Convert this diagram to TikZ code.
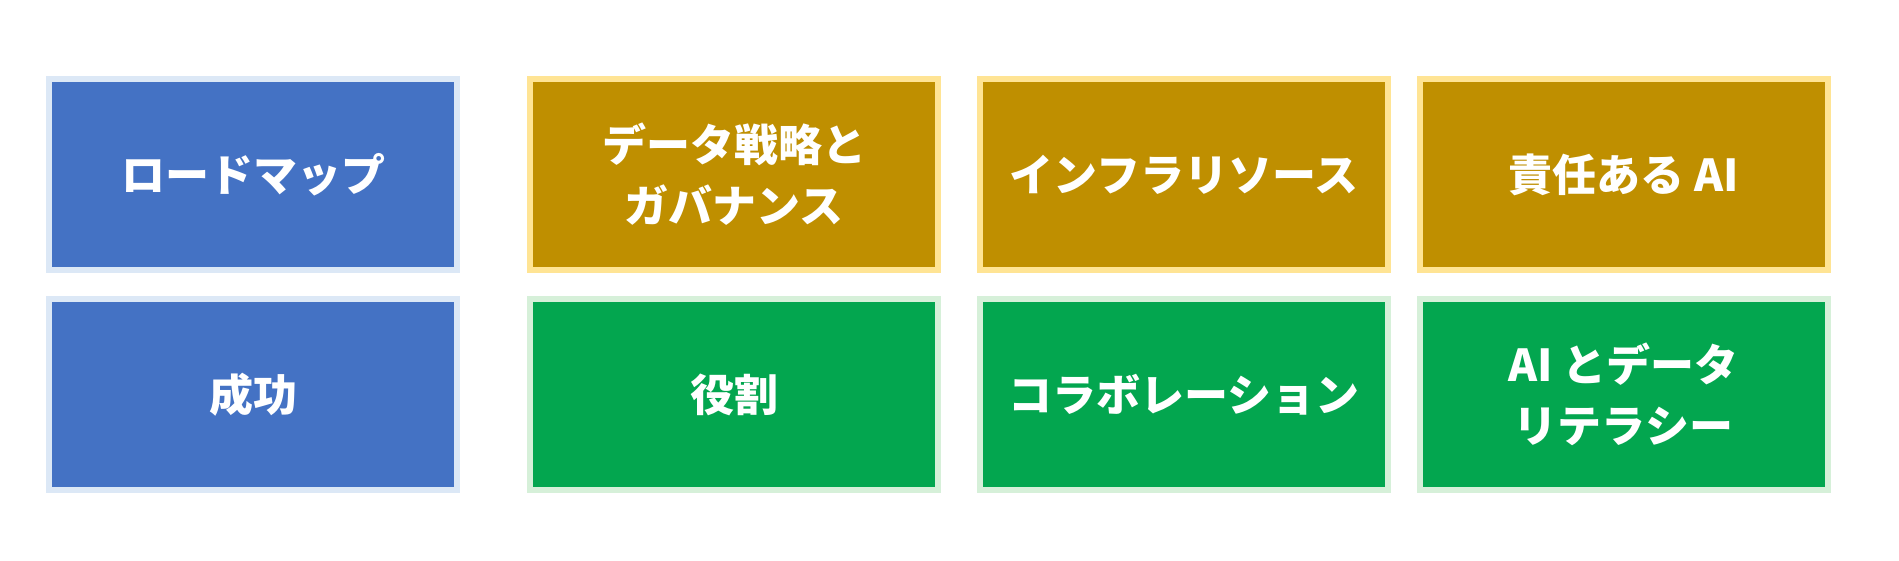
\documentclass[tikz,border=0pt]{standalone}
\usepackage{fontspec}
\setmainfont{Noto Sans CJK JP}
\definecolor{bluefill}{HTML}{4472C4}
\definecolor{blueedge}{HTML}{DCE8F6}
\definecolor{goldfill}{HTML}{BF8F00}
\definecolor{goldedge}{HTML}{FFE494}
\definecolor{greenfill}{HTML}{03A64F}
\definecolor{greenedge}{HTML}{D6F0D9}
\tikzset{
  card/.style={rectangle, minimum width=408pt, minimum height=191pt, line width=6pt,
    text=white, align=center, font=\fontsize{44}{61}\selectfont\bfseries, inner sep=0pt},
  bluecard/.style={card, fill=bluefill, draw=blueedge},
  goldcard/.style={card, fill=goldfill, draw=goldedge},
  greencard/.style={card, fill=greenfill, draw=greenedge}
}
\begin{document}
\begin{tikzpicture}[x=1pt,y=-1pt]
\useasboundingbox[fill=white] (0,0) rectangle (1899,560);
\node[bluecard]  (roadmap)  at (253,174.5)  {ロードマップ};
\node[goldcard]  (datastrat) at (734,174.5) {データ戦略と\\ガバナンス};
\node[goldcard]  (infra)    at (1184,174.5) {インフラリソース};
\node[goldcard]  (resp)     at (1623.5,174.5) {責任ある AI};
\node[bluecard]  (success)  at (253,394.5)  {成功};
\node[greencard] (roles)    at (734,394.5)  {役割};
\node[greencard] (collab)   at (1184,394.5) {コラボレーション};
\node[greencard] (literacy) at (1623.5,394.5) {AI とデータ\\リテラシー};
\end{tikzpicture}
\end{document}
